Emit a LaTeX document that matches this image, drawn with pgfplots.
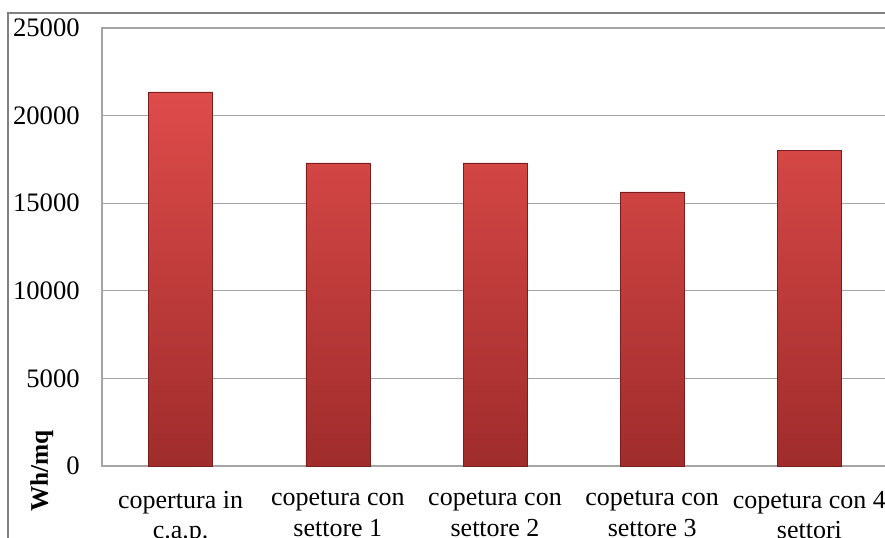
\documentclass[border=0pt]{standalone}
\usepackage{pgfplots}
\pgfplotsset{compat=1.18}
\usepackage{fontspec}
\setmainfont{Liberation Serif}
\definecolor{gridgray}{RGB}{165,165,165}
\definecolor{framegray}{RGB}{128,128,128}
\definecolor{bartop}{RGB}{222,76,74}
\definecolor{barbot}{RGB}{160,44,44}
\definecolor{baredge}{RGB}{120,30,30}
\begin{document}
\fontsize{19.5}{23}\selectfont
\begin{tikzpicture}
\useasboundingbox (0pt,0pt) rectangle (663.75pt,-403.5pt);
\draw[framegray, line width=0.8pt] (6pt,-420pt) -- (6pt,-9.75pt) -- (680pt,-9.75pt);
\begin{axis}[
  at={(76.5pt,-349.5pt)}, anchor=south west,
  scale only axis, width=589.5pt, height=328.5pt,
  xmin=-0.5, xmax=4.5, ymin=0, ymax=25000,
  ytick={0,5000,10000,15000,20000,25000},
  xtick={0,1,2,3,4},
  xticklabels={copertura in\\c.a.p., copetura con\\settore 1, copetura con\\settore 2, copetura con\\settore 3, copetura con 4\\settori},
  major tick length=0pt,
  ymajorgrids,
  grid style={gridgray, line width=0.9pt},
  axis line style={gridgray, line width=0.9pt},
  scaled y ticks=false,
  /pgf/number format/assume math mode=true,
  yticklabel={\pgfmathprintnumber[fixed, 1000 sep={}]{\tick}},
  yticklabel style={font=\fontsize{20}{23}\selectfont, anchor=east, inner sep=0pt, xshift=-16.5pt},
  xticklabel style={font=\fontsize{19.5}{23}\selectfont, align=center, anchor=north, inner sep=0pt, yshift=-18.5pt},
  ylabel={\textbf{Wh/mq}},
  ylabel style={font=\fontsize{19}{23}\selectfont, at={(axis description cs:-0.0765,-0.011)}, anchor=center},
  clip=false,
]
\addplot[ybar, bar width=48pt, draw=baredge, line width=0.4pt, top color=bartop, bottom color=barbot] coordinates {
  (0,21350) (1,17300) (2,17300) (3,15650) (4,18000)
};
\end{axis}
\end{tikzpicture}
\end{document}
